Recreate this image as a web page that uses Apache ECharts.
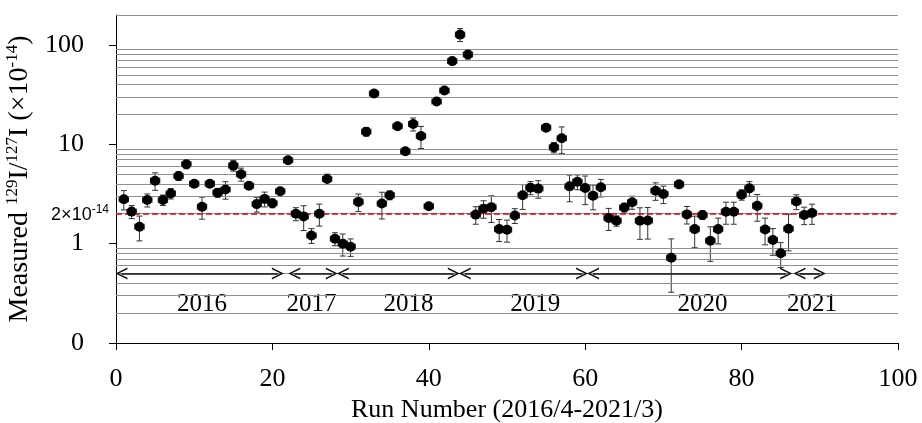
<!DOCTYPE html>
<html>
<head>
<meta charset="utf-8">
<script src="https://cdn.jsdelivr.net/npm/echarts@6/dist/echarts.min.js"></script>
<style>html,body{margin:0;padding:0;background:#fff}#c{width:922px;height:423px}</style>
</head>
<body>
<div id="c"></div>
<script>
// Run numbers
const runs = [1,2,3,4,5,6,7,8,9,10,11,12,13,14,15,16,17,18,19,20,21,22,23,24,25,26,27,28,29,30,31,32,33,34,35,36,37,38,39,40,41,42,43,44,45,46,47,48,49,50,51,52,53,54,55,56,57,58,59,60,61,62,63,64,65,66,67,68,69,70,71,72,73,74,75,76,77,78,79,80,81,82,83,84,85,86,87,88,89];
// Measured 129I/127I (x1e-14)
const ratios = [2.8,2.1,1.48,2.75,4.3,2.75,3.2,4.8,6.3,4.0,2.35,4.0,3.26,3.5,6.1,5.0,3.83,2.5,2.82,2.55,3.37,6.9,2.0,1.88,1.21,2.0,4.47,1.12,1.0,0.93,2.63,13.4,32.4,2.53,3.07,15.2,8.5,16.0,12.1,2.38,26.9,34.7,68.7,127,80,1.96,2.25,2.33,1.40,1.38,1.92,3.07,3.66,3.58,14.7,9.3,11.5,3.77,4.2,3.63,3.04,3.69,1.81,1.70,2.31,2.61,1.70,1.71,3.41,3.16,0.72,3.95,1.97,1.40,1.94,1.07,1.40,2.09,2.09,3.11,3.6,2.40,1.39,1.09,0.80,1.41,2.65,1.94,2.03];
// relative (1-sigma) uncertainty of each ratio
const relErr = [0.22,0.15,0.28,0.15,0.2,0.12,0.12,0.1,0.1,0.07,0.25,0.07,0.1,0.2,0.12,0.15,0.07,0.17,0.17,0.1,0.07,0.07,0.15,0.28,0.17,0.25,0.12,0.15,0.25,0.2,0.2,0.1,0.07,0.3,0.1,0.07,0.07,0.15,0.25,0.07,0.07,0.07,0.07,0.15,0.1,0.2,0.2,0.3,0.25,0.25,0.17,0.28,0.15,0.2,0.07,0.12,0.3,0.3,0.17,0.32,0.28,0.2,0.25,0.12,0.1,0.15,0.35,0.35,0.2,0.2,0.55,0.07,0.2,0.35,0.1,0.38,0.29,0.25,0.25,0.12,0.17,0.3,0.3,0.3,0.28,0.4,0.17,0.2,0.23];
const runHalfWidth = 0.6;
// axis tick labels
const yTickValues = [0.1, 1, 10, 100];
const xTickValues = [0, 20, 40, 60, 80, 100];
// background grid levels
const gridLevels = [0.2,0.3,0.4,0.5,0.6,0.7,0.8,0.9,2,3,4,5,6,7,8,9,20,30,40,50,60,70,80,90,200];
const refLevel = 2;
// yearly periods (run ranges) and labels
const periodStart = [0, 22.1, 28.3, 43.9, 60.3, 86.7];
const periodEnd   = [21.4, 28.3, 43.9, 60.3, 86.4, 90.7];
const arrowLevel = 0.5;
const yearNames = ['2016','2017','2018','2019','2020','2021'];
const yearX = [11, 25, 37.4, 53.6, 75, 89];
const yearLevel = 0.245;

const serif = 'Liberation Serif, Times New Roman, serif';
const chevron = 'path://M0,12 L6,0 L12,12 L10.2,12 L6,3.2 L1.8,12 Z';

const pts = runs.map((r, i) => [r, ratios[i]]);
const errData = runs.map((r, i) => [r, ratios[i], ratios[i] * (1 - relErr[i]), ratios[i] * (1 + relErr[i])]);

const chart = echarts.init(document.getElementById('c'));
chart.setOption({
  animation: false,
  backgroundColor: '#fff',
  grid: { left: 116, right: 24, top: 15, bottom: 80, containLabel: false, outerBoundsMode: 'none' },
  xAxis: {
    type: 'value', min: 0, max: 100, interval: 20,
    name: 'Run Number (2016/4-2021/3)', nameLocation: 'middle', nameGap: 52,
    nameTextStyle: { fontFamily: serif, fontSize: 26, color: '#000' },
    axisLine: { show: true, onZero: false, lineStyle: { color: '#000', width: 1 } },
    axisTick: { show: true, inside: false, length: 7, lineStyle: { color: '#000' } },
    axisLabel: { fontFamily: serif, fontSize: 26, color: '#000', margin: 23 },
    splitLine: { show: false }
  },
  yAxis: {
    type: 'log', logBase: 10, min: 0.1, max: 200,
    name: '{n|Measured }{s|129}{n|I/}{s|127}{n|I (×10}{s|-14}{n|)}',
    nameLocation: 'middle', nameGap: 79, nameRotate: 90,
    nameTextStyle: {
      rich: {
        n: { fontFamily: serif, fontSize: 28, color: '#000', lineHeight: 30, verticalAlign: 'bottom' },
        s: { fontFamily: serif, fontSize: 17, color: '#000', lineHeight: 30, verticalAlign: 'top' }
      }
    },
    axisLine: { show: true, lineStyle: { color: '#000', width: 1 } },
    axisTick: { show: true, length: 7, customValues: yTickValues, lineStyle: { color: '#000' } },
    axisLabel: {
      customValues: yTickValues, fontFamily: serif, fontSize: 26, color: '#000', margin: 32,
      formatter: v => (Math.abs(v - 0.1) < 1e-9 ? '0' : String(Math.round(v)))
    },
    splitLine: { show: false },
    minorSplitLine: { show: false }
  },
  series: [
    {
      type: 'line', data: [], silent: true, z: 1,
      markLine: {
        silent: true, symbol: 'none', animation: false,
        lineStyle: { color: '#8f8f8f', width: 1, type: 'solid' },
        label: { show: false },
        data: gridLevels.map(v => ({ yAxis: v }))
      }
    },
    {
      type: 'line', data: [], silent: true, z: 3,
      markLine: {
        silent: true, symbol: 'none', animation: false,
        lineStyle: { color: '#e8000b', width: 1.6, type: [6, 3] },
        label: {
          show: true, position: 'start', distance: 7,
          formatter: '{a|2×10}{b|-14}',
          rich: {
            a: { fontFamily: 'Liberation Sans, Arial, sans-serif', fontSize: 18, color: '#000', lineHeight: 20, verticalAlign: 'bottom' },
            b: { fontFamily: 'Liberation Sans, Arial, sans-serif', fontSize: 12, color: '#000', lineHeight: 20, verticalAlign: 'top' }
          }
        },
        data: [{ yAxis: refLevel }]
      }
    },
    {
      type: 'line', data: [], silent: true, z: 3,
      markLine: {
        silent: true, animation: false,
        symbol: [chevron, chevron], symbolSize: [12, 12],
        lineStyle: { color: '#111', width: 1.6, type: 'solid' },
        itemStyle: { color: '#111' },
        label: { show: false },
        data: periodStart.map((s, i) => [{ coord: [s + 0.7, arrowLevel] }, { coord: [periodEnd[i] - 0.7, arrowLevel] }])
      }
    },
    {
      type: 'scatter', silent: true, z: 3, symbolSize: 0,
      itemStyle: { opacity: 1 },
      data: yearNames.map((n, i) => ({ value: [yearX[i], yearLevel], name: n })),
      label: { show: true, position: 'inside', opacity: 1, formatter: p => p.name, fontFamily: serif, fontSize: 25, color: '#000' }
    },
    {
      type: 'custom', z: 4, silent: true,
      data: errData,
      renderItem: function (params, api) {
        const x = api.value(0), y = api.value(1), lo = api.value(2), hi = api.value(3);
        const c = api.coord([x, y]);
        const pLo = api.coord([x, lo]);
        const pHi = api.coord([x, hi]);
        const pL = api.coord([x - runHalfWidth, y]);
        const pR = api.coord([x + runHalfWidth, y]);
        const cap = 3;
        const st = { stroke: '#333', lineWidth: 1 };
        return {
          type: 'group',
          children: [
            { type: 'line', shape: { x1: c[0], y1: pLo[1], x2: c[0], y2: pHi[1] }, style: st },
            { type: 'line', shape: { x1: c[0] - cap, y1: pLo[1], x2: c[0] + cap, y2: pLo[1] }, style: st },
            { type: 'line', shape: { x1: c[0] - cap, y1: pHi[1], x2: c[0] + cap, y2: pHi[1] }, style: st },
            { type: 'line', shape: { x1: pL[0], y1: c[1], x2: pR[0], y2: c[1] }, style: st },
            { type: 'line', shape: { x1: pL[0], y1: c[1] - cap, x2: pL[0], y2: c[1] + cap }, style: st },
            { type: 'line', shape: { x1: pR[0], y1: c[1] - cap, x2: pR[0], y2: c[1] + cap }, style: st }
          ]
        };
      }
    },
    {
      type: 'scatter', z: 5, symbol: 'circle', symbolSize: 10,
      itemStyle: { color: '#000', opacity: 1 },
      data: pts
    }
  ]
});
</script>
</body>
</html>
